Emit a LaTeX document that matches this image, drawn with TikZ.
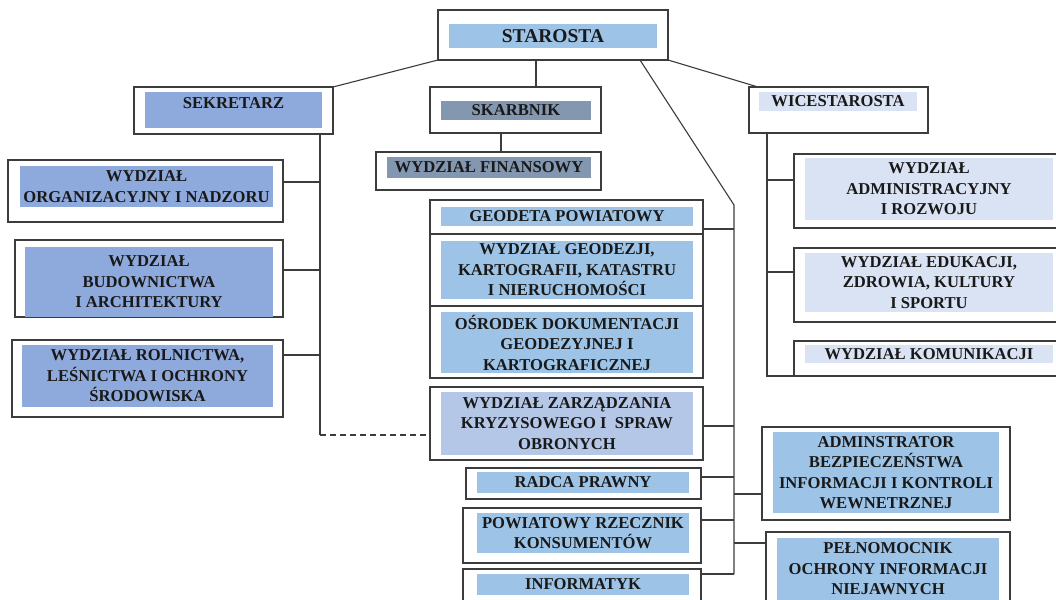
\documentclass[tikz,border=0pt]{standalone}
\usepackage{fontspec}
\setmainfont{Liberation Serif}
\definecolor{linec}{HTML}{3C3C3C}
\definecolor{cLight}{HTML}{9DC3E6}
\definecolor{cMid}{HTML}{8EA9DB}
\definecolor{cDark}{HTML}{8497B0}
\definecolor{cPale}{HTML}{DAE3F3}
\definecolor{cZarz}{HTML}{B4C7E7}
\newcommand\bxfont{\fontsize{16.6}{20.5}\selectfont\bfseries}
\newcommand\bigfont{\fontsize{19.5}{22}\selectfont\bfseries}
\tikzset{
  outerbox/.style={draw=linec, line width=1.2pt, fill=white, inner sep=0pt, outer sep=0pt},
  fillbox/.style={inner sep=0pt, outer sep=0pt, align=center, font=\bxfont, text=black!90},
  conn/.style={draw=linec, line width=1.1pt},
  dashconn/.style={conn, dash pattern=on 6pt off 4pt}
}
\begin{document}
\begin{tikzpicture}[x=1pt,y=-1pt]
\useasboundingbox (0,0) rectangle (1056,599);
\fill[white] (0,0) rectangle (1056,599);

% ---- outer boxes ----
\node[outerbox, minimum width=230pt, minimum height=50pt] (star) at (553,35) {};
\node[outerbox, minimum width=199pt, minimum height=47pt] (sek) at (233.5,110.5) {};
\node[outerbox, minimum width=171pt, minimum height=46pt] (skarb) at (515.5,110) {};
\node[outerbox, minimum width=225pt, minimum height=38pt] (fin) at (488.5,171) {};
\node[outerbox, minimum width=179pt, minimum height=46pt] (wice) at (838.5,110) {};

\node[outerbox, minimum width=275pt, minimum height=62pt] (org) at (145.5,191) {};
\node[outerbox, minimum width=268pt, minimum height=77pt] (bud) at (149,278.5) {};
\node[outerbox, minimum width=271pt, minimum height=77pt] (rol) at (147.5,378.5) {};

\node[outerbox, minimum width=273pt, minimum height=34pt] (geodeta) at (566.5,217) {};
\node[outerbox, minimum width=273pt, minimum height=72pt] (geodezji) at (566.5,270) {};
\node[outerbox, minimum width=273pt, minimum height=72pt] (osrodek) at (566.5,342) {};
\node[outerbox, minimum width=273pt, minimum height=73pt] (zarz) at (566.5,423.5) {};
\node[outerbox, minimum width=235pt, minimum height=31pt] (radca) at (583.5,483.5) {};
\node[outerbox, minimum width=238pt, minimum height=55pt] (rzecz) at (582,535.5) {};
\node[outerbox, minimum width=238pt, minimum height=41pt] (inf) at (582,589.5) {};

\node[outerbox, minimum width=268pt, minimum height=74pt] (adm) at (928,191) {};
\node[outerbox, minimum width=268pt, minimum height=74pt] (edu) at (928,285) {};
\node[outerbox, minimum width=268pt, minimum height=35pt] (kom) at (928,358.5) {};

\node[outerbox, minimum width=248pt, minimum height=93pt] (abi) at (886,473.5) {};
\node[outerbox, minimum width=244pt, minimum height=78pt] (peln) at (888,571) {};

% ---- filled labels ----
\node[fillbox, fill=cLight, minimum width=208pt, minimum height=24pt, font=\bigfont] (starT) at (553,36) {STAROSTA};
\node[fillbox, fill=cMid, minimum width=177pt, text height=17pt, text depth=19pt, anchor=base] (sekT) at (233.5,109) {SEKRETARZ};
\node[fillbox, fill=cDark, minimum width=150pt, minimum height=19pt] (skarbT) at (516,110.5) {SKARBNIK};
\node[fillbox, fill=cDark, minimum width=204pt, minimum height=21pt] (finT) at (489,167.5) {WYDZIAŁ FINANSOWY};
\node[fillbox, fill=cPale, minimum width=158pt, minimum height=19pt] (wiceT) at (838,101.5) {WICESTAROSTA};

\node[fillbox, fill=cMid, minimum width=253pt, minimum height=41pt] (orgT) at (146.5,186.5) {WYDZIAŁ\\ORGANIZACYJNY I NADZORU};
\node[fillbox, fill=cMid, minimum width=248pt, minimum height=70pt] (budT) at (149,282) {WYDZIAŁ\\BUDOWNICTWA\\I ARCHITEKTURY};
\node[fillbox, fill=cMid, minimum width=251pt, minimum height=62pt] (rolT) at (147.5,376) {WYDZIAŁ ROLNICTWA,\\LEŚNICTWA I OCHRONY\\ŚRODOWISKA};

\node[fillbox, fill=cLight, minimum width=252pt, minimum height=19pt] (geodetaT) at (567,216.5) {GEODETA POWIATOWY};
\node[fillbox, fill=cLight, minimum width=252pt, minimum height=58pt] (geodezjiT) at (567,270) {WYDZIAŁ GEODEZJI,\\KARTOGRAFII, KATASTRU\\I NIERUCHOMOŚCI};
\node[fillbox, fill=cLight, minimum width=252pt, minimum height=61pt] (osrodekT) at (567,342.5) {OŚRODEK DOKUMENTACJI\\GEODEZYJNEJ I\\KARTOGRAFICZNEJ};
\node[fillbox, fill=cZarz, minimum width=252pt, minimum height=63pt] (zarzT) at (567,423.5) {WYDZIAŁ ZARZĄDZANIA\\KRYZYSOWEGO I \ SPRAW\\OBRONYCH};
\node[fillbox, fill=cLight, minimum width=212pt, minimum height=21pt] (radcaT) at (583,482.5) {RADCA PRAWNY};
\node[fillbox, fill=cLight, minimum width=212pt, minimum height=40pt] (rzeczT) at (583,533) {POWIATOWY RZECZNIK\\KONSUMENTÓW};
\node[fillbox, fill=cLight, minimum width=212pt, minimum height=21pt] (infT) at (583,584.5) {INFORMATYK};

\node[fillbox, fill=cPale, minimum width=248pt, minimum height=62pt] (admT) at (929,189) {WYDZIAŁ\\ADMINISTRACYJNY\\I ROZWOJU};
\node[fillbox, fill=cPale, minimum width=248pt, minimum height=59pt] (eduT) at (929,282.5) {WYDZIAŁ EDUKACJI,\\ZDROWIA, KULTURY\\I SPORTU};
\node[fillbox, fill=cPale, minimum width=248pt, minimum height=18pt] (komT) at (929,354) {WYDZIAŁ KOMUNIKACJI};

\node[fillbox, fill=cLight, minimum width=226pt, minimum height=81pt] (abiT) at (886,472.5) {ADMINSTRATOR\\BEZPIECZEŃSTWA\\INFORMACJI I KONTROLI\\WEWNETRZNEJ};
\node[fillbox, fill=cLight, minimum width=222pt, minimum height=62pt] (pelnT) at (888,569) {PEŁNOMOCNIK\\OCHRONY INFORMACJI\\NIEJAWNYCH};

% ---- helper coordinates ----
\coordinate (vtop) at (734,205);
\coordinate (vbot) at (734,574);
\coordinate (sekbot) at (320,435);
\coordinate (wbot) at (767,376);

% ---- connectors ----
\draw[conn] (star.south west) -- (sek.north east);
\draw[conn] ([xshift=98pt]star.south west) -- ([xshift=98pt]star.south west |- skarb.north);
\draw[conn] (star.south east) -- ([xshift=9pt]wice.north west);
\draw[conn] ([xshift=-28pt]star.south east) -- (vtop) -- (vbot);
\draw[conn] ([xshift=-14.5pt]skarb.south) -- ([xshift=-14.5pt]skarb.south |- fin.north);

\draw[conn] ([xshift=86.5pt]sek.south) -- (sekbot);
\draw[conn] ([yshift=9pt]org.east) -- ([yshift=9pt]org.east -| sekbot);
\draw[conn] ([yshift=8.5pt]bud.east) -- ([yshift=8.5pt]bud.east -| sekbot);
\draw[conn] ([yshift=23.5pt]rol.east) -- ([yshift=23.5pt]rol.east -| sekbot);
\draw[dashconn] (sekbot) -- (sekbot -| zarz.west);

\draw[conn] ([yshift=-12pt]geodeta.east) -- ([yshift=-12pt]geodeta.east -| vtop);
\draw[conn] ([yshift=-2.5pt]zarz.east) -- ([yshift=-2.5pt]zarz.east -| vtop);
\draw[conn] ([yshift=6.5pt]radca.east) -- ([yshift=6.5pt]radca.east -| vtop);
\draw[conn] ([yshift=15.5pt]rzecz.east) -- ([yshift=15.5pt]rzecz.east -| vtop);
\draw[conn] ([yshift=15.5pt]inf.east) -- (vbot);
\draw[conn] ([yshift=-20.5pt]abi.west) -- ([yshift=-20.5pt]abi.west -| vtop);
\draw[conn] ([yshift=28pt]peln.west) -- ([yshift=28pt]peln.west -| vtop);

\draw[conn] ([xshift=-71.5pt]wice.south) -- (wbot) -- (kom.south west);
\draw[conn] ([yshift=11pt]adm.west) -- ([yshift=11pt]adm.west -| wbot);
\draw[conn] ([yshift=13pt]edu.west) -- ([yshift=13pt]edu.west -| wbot);
\end{tikzpicture}
\end{document}
